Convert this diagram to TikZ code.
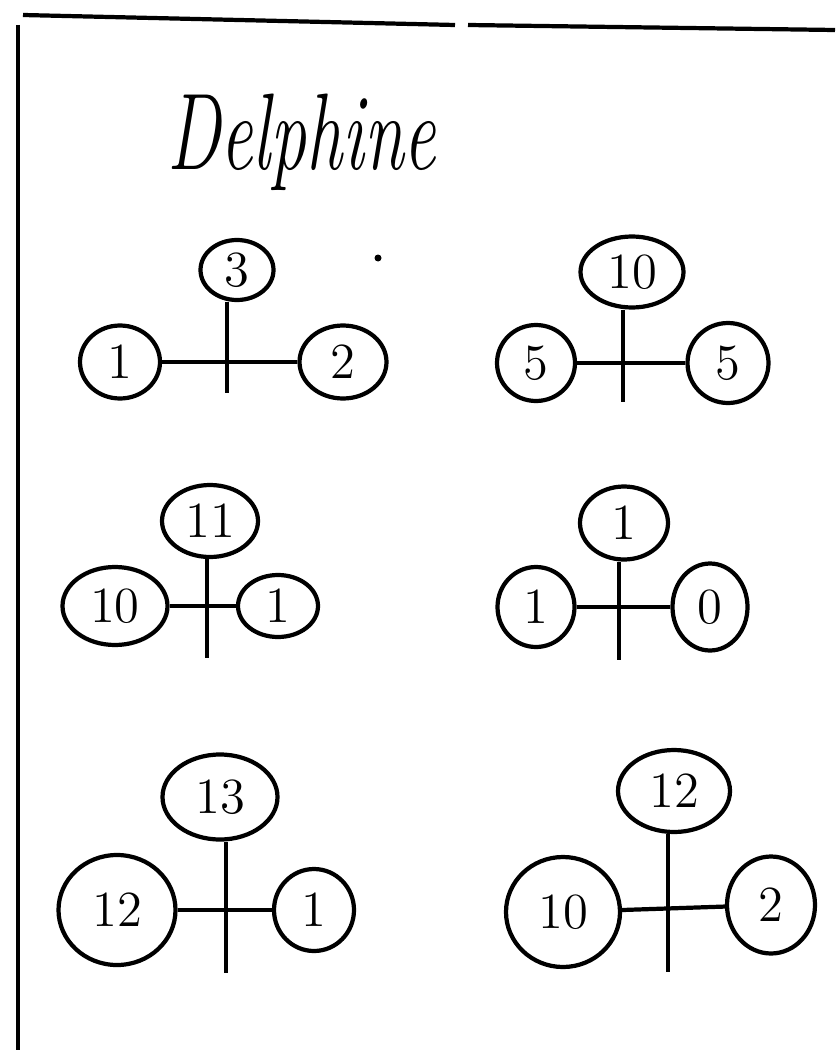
\documentclass[tikz,border=0pt]{standalone}
\usetikzlibrary{shapes.geometric}

\begin{document}
\begin{tikzpicture}[x=0.1mm, y=-0.1mm, line width=1.2pt,
 blob/.style={draw, ellipse, inner sep=0pt, font=\Large}]

\useasboundingbox (0,0) rectangle (835,1050);

%frame
\draw (23,15) -- (455,25);
\draw (468,25) -- (835,30);
\draw (18,25) -- (18,1050);

%name
\node[anchor=base west, font=\itshape\fontsize{31}{31}\selectfont, xscale=0.66] (name) at (158,170) {Delphine};
\fill (378,258) circle (3.5);

%graph 1
\node[blob, minimum width=7.3mm, minimum height=6mm] (g1t) at (237,270) {3};
\node[blob, minimum width=8mm, minimum height=7.3mm] (g1l) at (120,362) {1};
\node[blob, minimum width=8.7mm, minimum height=7.3mm] (g1r) at (343,362) {2};
\coordinate (g1b) at (227,393);

%graph 2
\node[blob, minimum width=10.3mm, minimum height=7.1mm] (g2t) at (632,272) {10};
\node[blob, minimum width=7.8mm, minimum height=7.6mm] (g2l) at (536,363) {5};
\node[blob, minimum width=8.1mm, minimum height=8mm] (g2r) at (728,363) {5};
\coordinate (g2b) at (623,402);

%graph 3
\node[blob, minimum width=9.6mm, minimum height=7.2mm] (g3t) at (210,521) {11};
\node[blob, minimum width=10.5mm, minimum height=7.8mm] (g3l) at (115,606) {10};
\node[blob, minimum width=8mm, minimum height=6.2mm] (g3r) at (278,606) {1};
\coordinate (g3b) at (207,658);

%graph 4
\node[blob, minimum width=8.8mm, minimum height=7.3mm] (g4t) at (624,523) {1};
\node[blob, minimum width=7.7mm, minimum height=8mm] (g4l) at (536,607) {1};
\node[blob, minimum width=7.5mm, minimum height=8.7mm] (g4r) at (710,607) {0};
\coordinate (g4b) at (619,660);

%graph 5
\node[blob, minimum width=11.5mm, minimum height=8.5mm] (g5t) at (220,797) {13};
\node[blob, minimum width=11.7mm, minimum height=11mm] (g5l) at (117,910) {12};
\node[blob, minimum width=8mm, minimum height=8.2mm] (g5r) at (314,910) {1};
\coordinate (g5b) at (226,973);

%graph 6
\node[blob, minimum width=11.2mm, minimum height=8.2mm] (g6t) at (674,791) {12};
\node[blob, minimum width=11.4mm, minimum height=11mm] (g6l) at (563,912) {10};
\node[blob, minimum width=8.8mm, minimum height=9.7mm] (g6r) at (771,905) {2};
\coordinate (g6b) at (668,972);

%crosses
\foreach \g in {1,...,6}{
 \draw (g\g l) -- (g\g r);
 \draw (g\g t.south -| g\g b) -- (g\g b);
}

\end{tikzpicture}
\end{document}
